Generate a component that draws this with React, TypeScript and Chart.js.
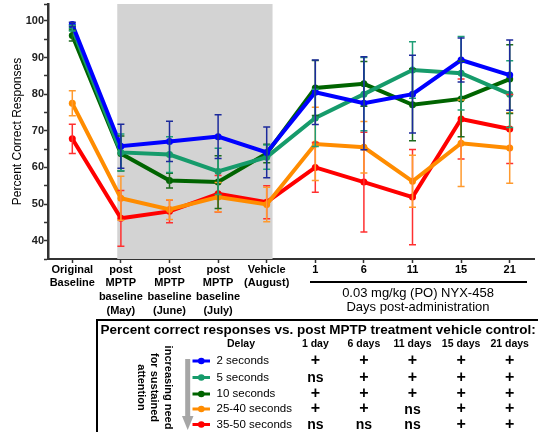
import React, { useEffect, useRef } from "react";
import { Chart, registerables } from "chart.js";

Chart.register(...registerables);

const FONT = "'Liberation Sans', Arial, Helvetica, sans-serif";

const categories: (string | string[])[] = [
  ["Original", "Baseline"],
  ["post", "MPTP", "baseline", "(May)"],
  ["post", "MPTP", "baseline", "(June)"],
  ["post", "MPTP", "baseline", "(July)"],
  ["Vehicle", "(August)"],
  "1",
  "6",
  "11",
  "15",
  "21",
];

const delays = ["2 seconds", "5 seconds", "10 seconds", "25-40 seconds", "35-50 seconds"];
const lineColors = ["#0000ff", "#169b6b", "#006400", "#ff8c00", "#ff0000"];
const errColors = ["#1c2a9c", "#1f9e76", "#1d6b1d", "#ff9a2e", "#ff3030"];

const sec2 = [99.0, 65.8, 67.1, 68.4, 64.1, 80.5, 77.5, 80.0, 89.3, 85.2];
const sec2Err = [0.6, 6.0, 5.5, 6.0, 6.9, 8.8, 12.7, 10.6, 6.0, 9.6];
const sec5 = [98.0, 64.1, 63.5, 58.9, 62.8, 73.5, 80.0, 86.6, 85.7, 80.0];
const sec5Err = [0.8, 5.0, 4.9, 6.3, 3.3, 7.8, 10.0, 7.7, 10.0, 9.1];
const sec10 = [96.0, 63.8, 56.4, 56.0, 63.8, 81.7, 82.8, 77.1, 78.7, 84.1];
const sec10Err = [1.5, 4.8, 2.0, 7.2, 2.5, 7.5, 6.1, 9.8, 10.3, 9.4];
const sec25to40 = [77.5, 51.6, 48.5, 51.9, 49.9, 66.4, 65.5, 56.2, 66.6, 65.3];
const sec25to40Err = [3.4, 6.0, 2.7, 4.0, 4.7, 10.0, 7.0, 7.1, 11.8, 9.6];
const sec35to50 = [67.8, 46.1, 48.0, 52.8, 50.5, 60.0, 56.0, 51.9, 73.2, 70.5];
const sec35to50Err = [4.0, 7.6, 3.1, 5.0, 4.5, 6.8, 13.6, 13.0, 10.9, 9.4];

const seriesValues = [sec2, sec5, sec10, sec25to40, sec35to50];
const seriesErrors = [sec2Err, sec5Err, sec10Err, sec25to40Err, sec35to50Err];

const dayHeaders = ["1 day", "6 days", "11 days", "15 days", "21 days"];
const significance = [
  ["+", "+", "+", "+", "+"],
  ["ns", "+", "+", "+", "+"],
  ["+", "+", "+", "+", "+"],
  ["+", "+", "ns", "+", "+"],
  ["ns", "ns", "ns", "+", "+"],
];

const yTitle = "Percent Correct Responses";
const treatmentLine1 = "0.03 mg/kg (PO) NYX-458";
const treatmentLine2 = "Days post-administration";
const tableTitle = "Percent correct responses vs. post MPTP treatment vehicle control:";
const arrowText = ["increasing need", "for sustained", "attention"];

const annotations = {
  id: "annotations",
  beforeDatasetsDraw(chart: any) {
    const { ctx, chartArea, scales } = chart;
    const x = scales.x;
    const step = x.getPixelForValue(1) - x.getPixelForValue(0);
    const left = x.getPixelForValue(1) - 0.075 * step;
    const right = x.getPixelForValue(4) + 0.12 * step;
    ctx.save();
    ctx.fillStyle = "#d3d3d3";
    ctx.fillRect(left, chartArea.top, right - left, chartArea.bottom - chartArea.top);
    ctx.restore();
  },
  afterDatasetsDraw(chart: any) {
    const { ctx, scales } = chart;
    const x = scales.x;
    const y = scales.y;
    ctx.save();
    ctx.lineWidth = 1.5;
    for (let s = seriesValues.length - 1; s >= 0; s--) {
      ctx.strokeStyle = errColors[s];
      seriesValues[s].forEach((v, i) => {
        const e = seriesErrors[s][i];
        const px = x.getPixelForValue(i);
        const t = y.getPixelForValue(v + e);
        const b = y.getPixelForValue(v - e);
        ctx.beginPath();
        ctx.moveTo(px, t);
        ctx.lineTo(px, b);
        ctx.moveTo(px - 3.5, t);
        ctx.lineTo(px + 3.5, t);
        ctx.moveTo(px - 3.5, b);
        ctx.lineTo(px + 3.5, b);
        ctx.stroke();
      });
    }
    ctx.restore();
  },
  afterDraw(chart: any) {
    const { ctx, scales } = chart;
    const x = scales.x;
    ctx.save();
    ctx.fillStyle = "#000";
    ctx.strokeStyle = "#000";

    // treatment underline + caption
    ctx.lineWidth = 2;
    ctx.beginPath();
    ctx.moveTo(310, 282);
    ctx.lineTo(527, 282);
    ctx.stroke();
    ctx.font = `13px ${FONT}`;
    ctx.textAlign = "center";
    ctx.textBaseline = "middle";
    ctx.fillText(treatmentLine1, 418, 293);
    ctx.fillText(treatmentLine2, 418, 307);

    // table box
    ctx.beginPath();
    ctx.moveTo(97, 440);
    ctx.lineTo(97, 320);
    ctx.lineTo(545, 320);
    ctx.stroke();

    ctx.font = `bold 13.5px ${FONT}`;
    ctx.textAlign = "left";
    ctx.fillText(tableTitle, 100.5, 330);

    // header row
    ctx.font = `bold 10.5px ${FONT}`;
    ctx.textAlign = "center";
    ctx.fillText("Delay", 241, 344.5);
    dayHeaders.forEach((h, k) => {
      ctx.fillText(h, x.getPixelForValue(5 + k), 344.5);
    });

    // rows
    const rowY = [361, 377.5, 394, 409, 424.5];
    delays.forEach((d, i) => {
      const yy = rowY[i];
      ctx.strokeStyle = lineColors[i];
      ctx.fillStyle = lineColors[i];
      ctx.lineWidth = 3;
      ctx.beginPath();
      ctx.moveTo(192.5, yy);
      ctx.lineTo(210, yy);
      ctx.stroke();
      ctx.beginPath();
      ctx.arc(201.3, yy, 3.3, 0, Math.PI * 2);
      ctx.fill();
      ctx.fillStyle = "#000";
      ctx.font = `11.5px ${FONT}`;
      ctx.textAlign = "left";
      ctx.fillText(d, 216.5, yy);
      significance[i].forEach((sym, k) => {
        ctx.textAlign = "center";
        ctx.font = sym === "+" ? `bold 16px ${FONT}` : `bold 14px ${FONT}`;
        ctx.fillText(sym, x.getPixelForValue(5 + k), yy + (sym === "+" ? 0 : 1));
      });
    });

    // gray arrow
    ctx.fillStyle = "#a6a6a6";
    ctx.fillRect(185.2, 359, 5, 58);
    ctx.beginPath();
    ctx.moveTo(182, 416);
    ctx.lineTo(193.5, 416);
    ctx.lineTo(187.7, 430);
    ctx.closePath();
    ctx.fill();

    // rotated text
    ctx.fillStyle = "#000";
    ctx.font = `bold 11px ${FONT}`;
    ctx.textAlign = "center";
    const colX = [168, 154.5, 141];
    arrowText.forEach((t, i) => {
      ctx.save();
      ctx.translate(colX[i], 387.5);
      ctx.rotate(Math.PI / 2);
      ctx.fillText(t, 0, 0);
      ctx.restore();
    });

    ctx.restore();
  },
};

export default function App() {
  const ref = useRef<HTMLCanvasElement | null>(null);

  useEffect(() => {
    document.body.style.margin = "0";
    const canvas = ref.current;
    if (!canvas) return;
    const chart = new Chart(canvas, {
      type: "line",
      data: {
        labels: categories as any,
        datasets: seriesValues.map((vals, i) => ({
          label: delays[i],
          data: vals,
          borderColor: lineColors[i],
          backgroundColor: lineColors[i],
          pointBackgroundColor: lineColors[i],
          pointBorderColor: lineColors[i],
          pointBorderWidth: 0,
          pointRadius: 3.5,
          borderWidth: 4,
          tension: 0,
          fill: false,
        })),
      },
      options: {
        responsive: false,
        animation: false,
        events: [],
        layout: { padding: { top: 0, left: 0, right: 0, bottom: 0 } },
        plugins: {
          legend: { display: false },
          tooltip: { enabled: false },
        },
        scales: {
          x: {
            type: "category",
            offset: true,
            grid: {
              display: true,
              drawOnChartArea: false,
              drawTicks: true,
              tickLength: 4,
              tickColor: "#333",
              tickWidth: 1.5,
            },
            border: { display: true, color: "#333", width: 2 },
            ticks: {
              autoSkip: false,
              maxRotation: 0,
              minRotation: 0,
              padding: 0,
              color: "#000",
              font: { family: FONT, size: 11, weight: "bold", lineHeight: 1.24 },
            },
            afterFit: (s: any) => {
              s.height = 173;
              s.paddingLeft = 0;
              s.paddingRight = 0;
            },
          },
          y: {
            min: 35,
            max: 104.6,
            grid: {
              display: true,
              drawOnChartArea: false,
              drawTicks: true,
              tickLength: 4,
              tickColor: "#333",
              tickWidth: 1.5,
            },
            border: { display: true, color: "#333", width: 2.5 },
            ticks: {
              stepSize: 5,
              padding: 0,
              color: "#222",
              font: { family: FONT, size: 11, weight: "bold" },
              callback: (v: any) => (v % 10 === 0 && v >= 40 && v <= 100 ? String(v) : ""),
            },
            title: {
              display: true,
              text: yTitle,
              color: "#000",
              font: { family: FONT, size: 12 },
              padding: { top: 10, bottom: 0 },
            },
            afterFit: (s: any) => {
              s.width = 48;
              s.paddingTop = 0;
              s.paddingBottom = 0;
            },
          },
        },
      },
      plugins: [annotations],
    } as any);
    return () => chart.destroy();
  }, []);

  return (
    <canvas
      ref={ref}
      width={538}
      height={432}
      style={{ display: "block", width: 538, height: 432 }}
    />
  );
}
